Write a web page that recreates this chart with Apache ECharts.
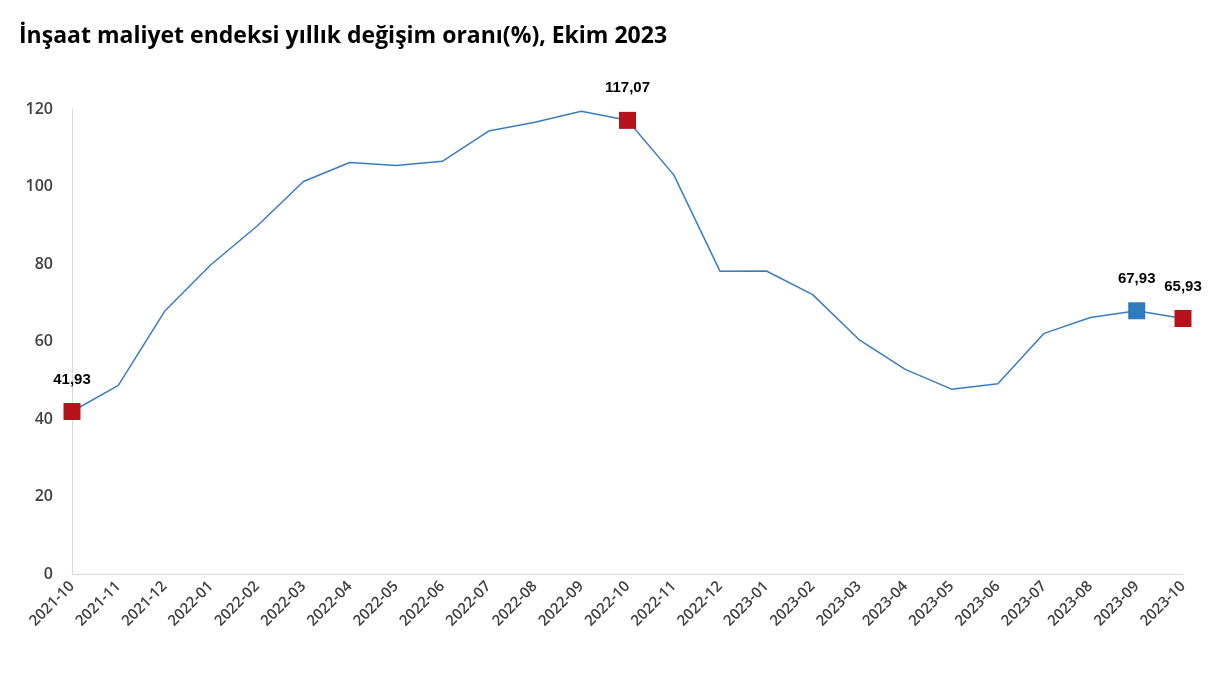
<!DOCTYPE html>
<html><head><meta charset="utf-8">
<script src="https://cdn.jsdelivr.net/npm/echarts@6/dist/echarts.min.js"></script>
<style>html,body{margin:0;padding:0;background:#fff}#c{width:1229px;height:684px}</style>
</head><body><div id="c"></div>
<script>
const categories = ['2021-10','2021-11','2021-12','2022-01','2022-02','2022-03','2022-04','2022-05','2022-06','2022-07','2022-08','2022-09','2022-10','2022-11','2022-12','2023-01','2023-02','2023-03','2023-04','2023-05','2023-06','2023-07','2023-08','2023-09','2023-10'];
const values = [41.93,48.7,67.8,79.8,89.8,101.3,106.2,105.4,106.5,114.3,116.6,119.4,117.07,103.0,78.1,78.2,72.1,60.5,52.8,47.7,49.1,62.1,66.2,67.93,65.93];
const highlightRed = ['2021-10','2022-10','2023-10'];
const highlightBlue = ['2023-09'];
const yTicks = {min:0, max:120, interval:20};

const data = values.map((v,i)=>{
  const c = categories[i];
  const red = highlightRed.includes(c), blue = highlightBlue.includes(c);
  if(!red && !blue) return {value:v, symbol:'none'};
  return {value:v, symbol:'rect', symbolSize:17,
    itemStyle:{color: red ? '#b5121b' : '#2e7bbf'},
    label:{show:true, position:'top', distance:16,
      formatter: ()=> v.toFixed(2).replace('.',','),
      fontFamily:'Liberation Sans Narrow, Arial Narrow, Liberation Sans', fontWeight:'bold', fontSize:15, color:'#000'}};
});

const chart = echarts.init(document.getElementById('c'));
chart.setOption({
  animation:false,
  title:{text:'İnşaat maliyet endeksi yıllık değişim oranı(%), Ekim 2023', left:14, top:20,
    textStyle:{fontFamily:'Open Sans', fontWeight:'bold', fontSize:23, color:'#000'}},
  grid:{left:72, right:46, top:109, bottom:110},
  xAxis:{type:'category', data:categories, boundaryGap:false,
    axisLine:{lineStyle:{color:'#d9d9d9'}}, axisTick:{show:false},
    axisLabel:{rotate:45, interval:0, margin:10, fontFamily:'Open Sans', fontWeight:600, fontSize:15, color:'#404040'}},
  yAxis:{type:'value', min:yTicks.min, max:yTicks.max, interval:yTicks.interval,
    axisLine:{show:true, lineStyle:{color:'#d9d9d9'}}, axisTick:{show:false}, splitLine:{show:false},
    axisLabel:{margin:19, fontFamily:'Open Sans', fontWeight:600, fontSize:16, color:'#404040'}},
  series:[{type:'line', data:data, showSymbol:true, lineStyle:{color:'#3a7dbf', width:1.5},
    itemStyle:{color:'#3a7dbf'}}]
});
</script></body></html>
